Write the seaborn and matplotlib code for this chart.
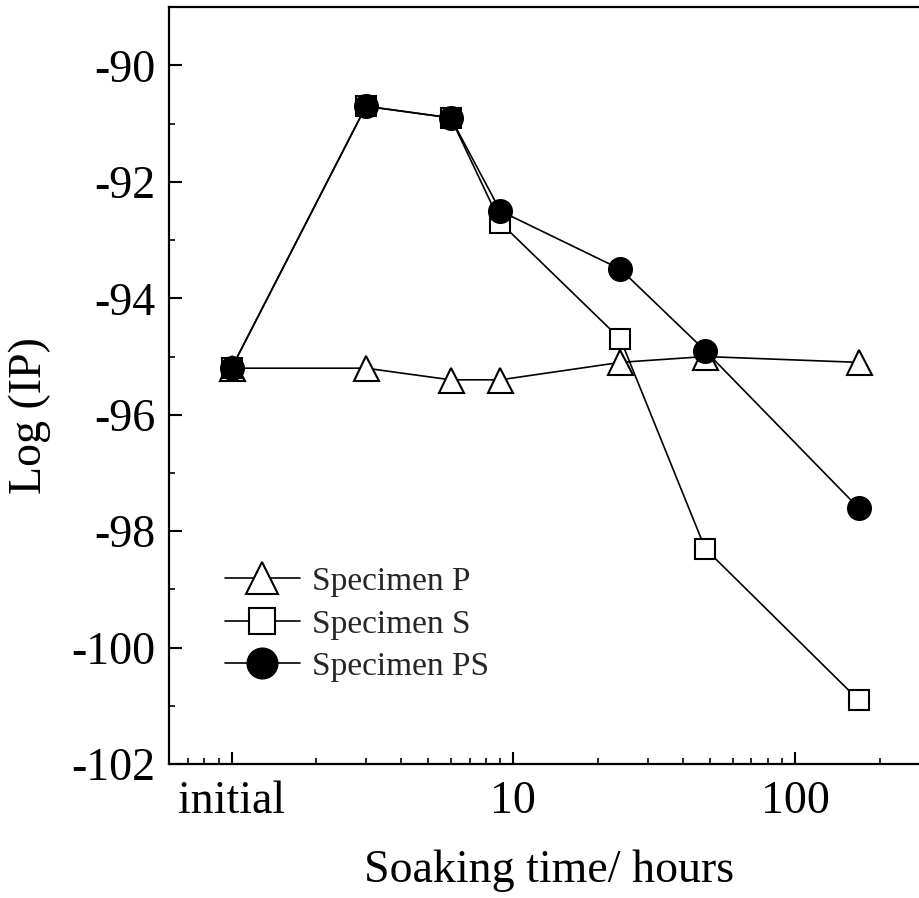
import matplotlib
matplotlib.use("Agg")
import matplotlib.pyplot as plt
import matplotlib.ticker as mticker
import seaborn as sns
import pandas as pd

# Data
hours = [1, 3, 6, 9, 24, 48, 168]  # 1 = "initial"
spec_p = [-95.2, -95.2, -95.4, -95.4, -95.1, -95.0, -95.1]
spec_s = [-95.2, -90.7, -90.9, -92.7, -94.7, -98.3, -100.9]
spec_ps = [-95.2, -90.7, -90.9, -92.5, -93.5, -94.9, -97.6]
x_tick_vals = [1, 10, 100]
x_tick_labels = ["initial", "10", "100"]
y_ticks = [-102, -100, -98, -96, -94, -92, -90]

sns.set_theme(style="ticks")
plt.rcParams['font.family'] = ['Liberation Serif', 'DejaVu Serif']

fig = plt.figure(figsize=(9.19, 8.98), dpi=100)
ax = fig.add_axes([0.1839, 0.1492, 1.0114 - 0.1839, 0.9919 - 0.1492])

df_p = pd.DataFrame({"t": hours, "v": spec_p})
df_s = pd.DataFrame({"t": hours, "v": spec_s})
df_ps = pd.DataFrame({"t": hours, "v": spec_ps})

common = dict(color="black", linewidth=1.2, sort=False, estimator=None, ax=ax)
sns.lineplot(data=df_p, x="t", y="v", marker="^", markersize=18,
             markerfacecolor="white", markeredgecolor="black", markeredgewidth=1.5,
             label="Specimen P", zorder=3, **common)
sns.lineplot(data=df_s, x="t", y="v", marker="s", markersize=14,
             markerfacecolor="white", markeredgecolor="black", markeredgewidth=1.5,
             label="Specimen S", zorder=4, **common)
sns.lineplot(data=df_ps, x="t", y="v", marker="o", markersize=17,
             markerfacecolor="black", markeredgecolor="black", markeredgewidth=1.0,
             label="Specimen PS", zorder=5, **common)

ax.set_xscale("log")
ax.set_xlim(0.6, 300)
ax.set_ylim(-102, -89)

ax.xaxis.set_major_locator(mticker.FixedLocator(x_tick_vals))
ax.xaxis.set_major_formatter(mticker.FixedFormatter(x_tick_labels))
ax.xaxis.set_minor_locator(mticker.LogLocator(base=10, subs=[2, 3, 4, 5, 6, 7, 8, 9], numticks=20))
ax.xaxis.set_minor_formatter(mticker.NullFormatter())
ax.set_yticks(y_ticks)
ax.set_yticklabels([f"{v}" for v in y_ticks])
ax.yaxis.set_minor_locator(mticker.MultipleLocator(1))

ax.tick_params(axis="both", which="major", direction="in", length=9, width=1.5,
               labelsize=33, pad=10, color="black", labelcolor="black")
ax.tick_params(axis="both", which="minor", direction="in", length=4.5, width=1.2,
               color="black")
ax.tick_params(axis="x", which="major", pad=12)

for sp in ax.spines.values():
    sp.set_linewidth(1.6)
    sp.set_color("black")

ax.set_xlabel("Soaking time/ hours", fontsize=33, labelpad=19, color="black")
ax.set_ylabel("Log (IP)", fontsize=33, color="black")
ax.yaxis.set_label_coords(-0.155, 0.461)

leg = ax.legend(loc="upper left", bbox_to_anchor=(0.2448, 0.369),
                bbox_transform=fig.transFigure, frameon=False, fontsize=24,
                handlelength=2.25, handletextpad=0.36, labelspacing=0.36,
                borderpad=0, borderaxespad=0, markerscale=1.3)

fig.savefig("out.png", dpi=100)
